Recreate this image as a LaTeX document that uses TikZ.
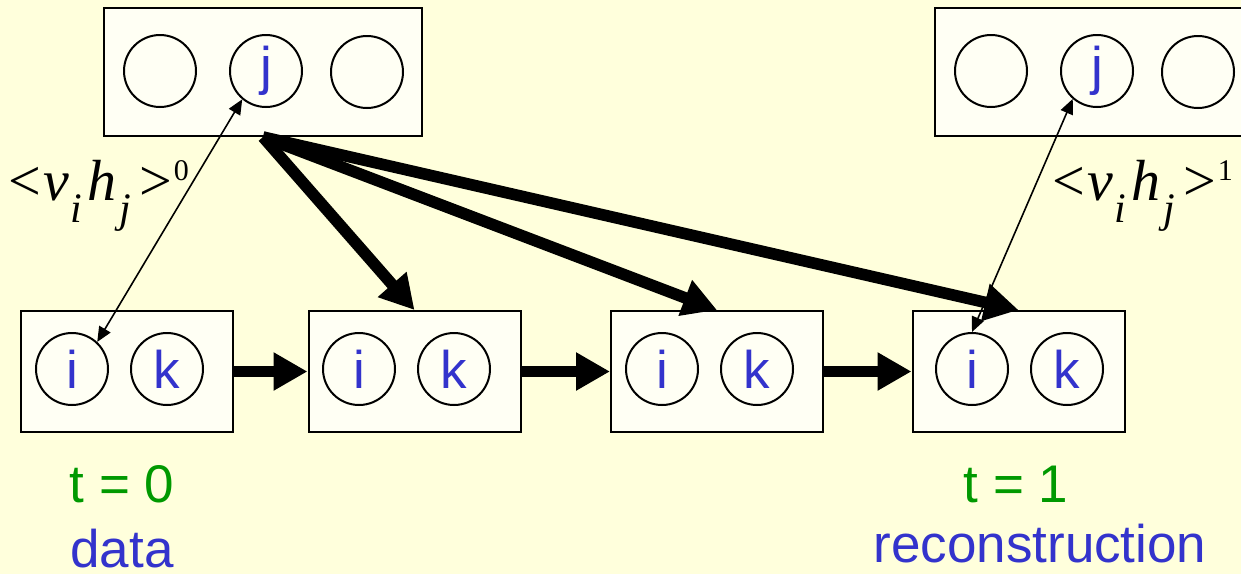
\documentclass[tikz,border=0pt]{standalone}
\usepackage{fontspec}
\setmainfont{Liberation Sans}
\newfontfamily\timesfont{Liberation Serif}
\usepackage{xcolor}
\usetikzlibrary{arrows.meta,positioning}
\definecolor{bgyellow}{HTML}{FFFFDC}
\definecolor{boxfill}{HTML}{FFFFF4}
\definecolor{unitblue}{HTML}{3333CC}
\definecolor{timegreen}{HTML}{009900}
\newcommand{\vhcorr}[1]{{\timesfont\fontsize{29}{29}\selectfont <\kern1pt\textit{v}\kern1pt\raisebox{-11pt}{\fontsize{21}{21}\selectfont\textit{i}}\kern2.5pt\textit{h}\kern1.5pt\raisebox{-11pt}{\fontsize{21}{21}\selectfont\textit{j}}\kern4pt>\kern1pt\raisebox{10pt}{\fontsize{15}{15}\selectfont #1}}}

\begin{document}
\begin{tikzpicture}[
  x=0.5pt,
  y=-0.5pt,
  layer/.style={draw=black, line width=1pt, fill=boxfill, inner sep=0pt},
  toplayer/.style={layer, minimum width=159pt, minimum height=64pt},
  botlayer/.style={layer, minimum width=106pt, minimum height=60.5pt},
  unit/.style={circle, draw=black, line width=1pt, fill=boxfill, minimum size=36pt, inner sep=0pt, text=unitblue, font=\fontsize{26.5}{26.5}\selectfont},
  chain/.style={-{Triangle[length=17pt,width=18pt]}, line width=5.8pt},
  corr/.style={{Triangle[length=7.5pt,width=6.5pt]}-{Triangle[length=7.5pt,width=6.5pt]}, line width=0.8pt},
  timelabel/.style={text=timegreen, anchor=base, inner sep=0pt, font=\fontsize{26.5}{26.5}\selectfont},
  caption/.style={text=unitblue, anchor=base, inner sep=0pt, font=\fontsize{26.5}{26.5}\selectfont},
  corrlabel/.style={anchor=base west, inner sep=0pt}
]
\clip (0,0) rectangle (1241,574);
\fill[bgyellow] (0,0) rectangle (1241,574);

% hidden layers
\node[toplayer] (hidA) at (263,72) {};
\node[unit] (hA1) at (160,71) {};
\node[unit] (hA2) at (266,71) {j};
\node[unit] (hA3) at (367,72) {};
\node[toplayer] (hidB) at (1094,72) {};
\node[unit] (hB1) at (991,71) {};
\node[unit] (hB2) at (1097,71) {j};
\node[unit] (hB3) at (1198,72) {};

% visible layers
\node[botlayer] (visA) at (127,371.5) {};
\node[unit] (vA1) at (72,369) {i};
\node[unit] (vA2) at (167,369) {k};
\node[botlayer] (visB) at (414.5,371.5) {};
\node[unit] (vB1) at (359,369) {i};
\node[unit] (vB2) at (454,369) {k};
\node[botlayer] (visC) at (717,371.5) {};
\node[unit] (vC1) at (662,369) {i};
\node[unit] (vC2) at (757,369) {k};
\node[botlayer] (visD) at (1018.5,371.5) {};
\node[unit] (vD1) at (972,369) {i};
\node[unit] (vD2) at (1067,369) {k};

\draw[chain] (visA) -- (visB);
\draw[chain] (visB) -- (visC);
\draw[chain] (visC) -- (visD);
\draw[chain] (hidA.south) -- (visB.north);
\draw[chain] (hidA.south) -- (visC.north);
\draw[chain] (hidA.south) -- (visD.north);

\draw[corr] (hA2.230) -- (vA1.47);
\draw[corr] (hB2.229) -- (vD1.north);

\node[corrlabel] (corr0) at (8,200) {\vhcorr{0}};
\node[corrlabel] (corr1) at (1052,200) {\vhcorr{1}};

\node[timelabel] (tzero) at (122,502) {t = 0};
\node[caption] (data) at (122,567) {data};
\node[timelabel] (tone) at (1016,502) {t = 1};
\node[caption] (recon) at (1040,562) {reconstruction};
\end{tikzpicture}
\end{document}
